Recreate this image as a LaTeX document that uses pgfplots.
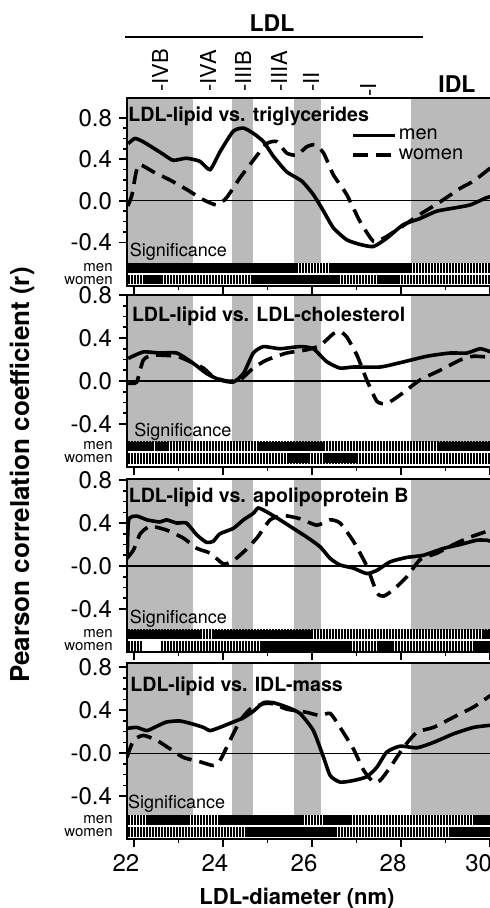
\documentclass[border=0pt]{standalone}
\usepackage{pgfplots}
\pgfplotsset{compat=1.18}
\usepackage{fontspec}
\setmainfont{TeX Gyre Heros}
\usetikzlibrary{patterns.meta}

\newcommand{\rect}[5]{\addplot[#1,draw=none,forget plot] coordinates {(#2,#4) (#3,#4) (#3,#5) (#2,#5)} -- cycle;}

\pgfplotsset{
  panel/.style={scale only axis, width=182pt, xmin=21.843, xmax=30.022,
    anchor=south west, tick pos=left, tick align=outside,
    xtick={22,24,26,28,30}, minor x tick num=1, xticklabels={},
    ytick={-0.4,0,0.4,0.8}, minor y tick num=3,
    yticklabels={-0.4,0.0,0.4,0.8},
    axis line style={line width=1pt}, major tick length=4pt, minor tick length=2.2pt,
    tick style={line width=0.8pt, black},
    tick label style={font=\fontsize{12}{12}\selectfont},
    xticklabel style={xshift=-4pt},
    clip mode=individual, axis on top},
  men/.style={black, line width=1.8pt, smooth, tension=0.35},
  women/.style={black, line width=1.8pt, dash pattern=on 7.5pt off 4pt, smooth, tension=0.35},
  shade/.style={fill=black!27},
  hatch/.style={pattern={Lines[angle=90,distance=1.5pt,line width=0.6pt]}, pattern color=black},
  solid bar/.style={fill=black},
}
\newcommand{\sidelabels}[2]{%
  \node[anchor=east, inner sep=0, font=\fontsize{7.5}{7.5}\selectfont] at ([xshift=-7pt,yshift=0.4pt]axis cs:21.843,#1) {men};
  \node[anchor=east, inner sep=0, font=\fontsize{7.5}{7.5}\selectfont] at ([xshift=-7pt,yshift=-0.4pt]axis cs:21.843,#2) {women};}
\newcommand{\signif}[2]{\node[anchor=base west, inner sep=0, font=\fontsize{9}{9}\selectfont] at (axis cs:#1,#2) {Significance};}
\newcommand{\zeroline}{\addplot[black, line width=0.6pt, forget plot] coordinates {(21.843,0) (30.022,0)};}

\begin{document}
\begin{tikzpicture}
\useasboundingbox (0pt,0pt) rectangle (245pt,454pt);
% header
\node[font=\bfseries\fontsize{11.5}{12}\selectfont, anchor=base, inner sep=0] at (136pt,438pt) {LDL};
\draw[line width=1pt] (62.5pt,435.5pt) -- (211.5pt,435.5pt);
\node[font=\bfseries\fontsize{11.5}{12}\selectfont, anchor=base west, inner sep=0] at (219pt,407.75pt) {IDL};
\foreach \xx/\yy/\t in {80/408/-IVB, 104/408/-IVA, 121.5/408/-IIIB, 139.5/408/-IIIA, 155.5/408/-II, 184/405.5/-I}
  \node[rotate=90, anchor=west, inner sep=0, font=\fontsize{11}{11}\selectfont] at (\xx pt,\yy pt) {\t};
% axis labels
\node[rotate=90, font=\bfseries\fontsize{13}{13}\selectfont, inner sep=0] at (11pt,216.5pt) {Pearson correlation coefficient (r)};
\node[anchor=base, font=\bfseries\fontsize{11}{11}\selectfont, inner sep=0] at (148.5pt,1.8pt) {LDL-diameter (nm)};

% ---------------- Panel 1
\begin{axis}[panel, at={(63.5pt,311pt)}, height=94pt, ymin=-0.82, ymax=0.99,
  legend style={at={(0.615,0.85)}, anchor=north west, draw=none, fill=none,
    font=\fontsize{10}{10}\selectfont, inner sep=0pt, row sep=1pt,
    nodes={inner sep=1pt}},
  legend cell align=left,
  legend image code/.code={\draw[#1] (0pt,0pt) -- (21pt,0pt);}]
\rect{shade}{21.843}{23.32}{-0.60}{0.99}
\rect{shade}{24.2}{24.68}{-0.60}{0.99}
\rect{shade}{25.6}{26.2}{-0.60}{0.99}
\rect{shade}{28.22}{30.022}{-0.60}{0.99}
\zeroline
\addplot[men] coordinates {(21.87,0.55) (22.02,0.60) (22.20,0.57) (22.43,0.51) (22.65,0.45) (22.88,0.39) (23.18,0.41) (23.48,0.38) (23.71,0.30) (23.93,0.47) (24.23,0.67) (24.46,0.70) (24.68,0.65) (24.91,0.57) (25.13,0.43) (25.43,0.28) (25.77,0.19) (26.03,0.06) (26.26,-0.10) (26.48,-0.26) (26.78,-0.375) (27.08,-0.42) (27.38,-0.44) (27.68,-0.36) (28.05,-0.23) (28.43,-0.17) (28.80,-0.10) (29.18,-0.07) (29.55,-0.04) (29.92,0.03) (30.02,0.04)};
\addlegendentry{men}
\addplot[women] coordinates {(21.86,-0.05) (21.95,0.05) (22.05,0.28) (22.13,0.35) (22.43,0.28) (22.81,0.20) (23.18,0.11) (23.56,0.01) (23.86,-0.04) (24.08,0.03) (24.38,0.22) (24.68,0.39) (24.98,0.55) (25.21,0.57) (25.43,0.46) (25.66,0.44) (25.88,0.52) (26.07,0.54) (26.26,0.46) (26.48,0.25) (26.78,0.06) (27.08,-0.20) (27.38,-0.39) (27.61,-0.36) (27.98,-0.26) (28.43,-0.13) (28.88,-0.01) (29.33,0.12) (29.63,0.19) (29.96,0.30) (30.02,0.32)};
\addlegendentry{women}
% significance bars
\rect{hatch}{21.843}{30.022}{-0.695}{-0.60}
\rect{solid bar}{21.843}{25.65}{-0.695}{-0.60}
\rect{solid bar}{26.40}{28.24}{-0.695}{-0.60}
\rect{hatch}{21.843}{30.022}{-0.80}{-0.715}
\rect{solid bar}{22.25}{22.66}{-0.80}{-0.715}
\rect{solid bar}{24.64}{26.63}{-0.80}{-0.715}
\rect{solid bar}{27.45}{27.98}{-0.80}{-0.715}
\node[anchor=north west, inner sep=0, font=\bfseries\fontsize{9.8}{10}\selectfont] at ([xshift=0.5pt,yshift=-4.5pt]rel axis cs:0,1) {LDL-lipid vs. triglycerides};
\signif{21.9}{-0.535}
\sidelabels{-0.6475}{-0.7575}
\end{axis}

% ---------------- Panel 2
\begin{axis}[panel, at={(63.5pt,220.5pt)}, height=86pt, ymin=-0.80, ymax=0.80]
\rect{shade}{21.843}{23.32}{-0.565}{0.80}
\rect{shade}{24.2}{24.68}{-0.565}{0.80}
\rect{shade}{25.6}{26.2}{-0.565}{0.80}
\rect{shade}{28.22}{30.022}{-0.565}{0.80}
\zeroline
\addplot[men] coordinates {(21.87,0.21) (22.21,0.27) (22.58,0.26) (22.96,0.26) (23.33,0.165) (23.63,0.07) (23.93,0.01) (24.23,-0.01) (24.46,0.07) (24.68,0.26) (24.91,0.32) (25.28,0.30) (25.73,0.32) (26.03,0.30) (26.33,0.18) (26.63,0.12) (26.93,0.13) (27.53,0.13) (27.98,0.17) (28.58,0.23) (29.10,0.26) (29.48,0.26) (29.78,0.30) (30.02,0.27)};
\addplot[women] coordinates {(21.87,-0.02) (22.06,-0.01) (22.21,0.195) (22.43,0.24) (22.96,0.23) (23.26,0.18) (23.56,0.12) (23.78,0.04) (24.08,0.0) (24.38,0.01) (24.68,0.12) (24.98,0.195) (25.43,0.26) (25.88,0.29) (26.18,0.33) (26.48,0.44) (26.63,0.46) (26.78,0.41) (27.01,0.24) (27.23,0.01) (27.46,-0.19) (27.68,-0.21) (27.98,-0.13) (28.43,0.01) (28.88,0.10) (29.33,0.195) (29.63,0.23) (30.02,0.22)};
\rect{hatch}{21.843}{30.022}{-0.65}{-0.565}
\rect{solid bar}{21.843}{22.44}{-0.65}{-0.565}
\rect{solid bar}{22.51}{22.77}{-0.65}{-0.565}
\rect{solid bar}{24.76}{26.29}{-0.65}{-0.565}
\rect{solid bar}{28.80}{30.022}{-0.65}{-0.565}
\rect{hatch}{21.843}{30.022}{-0.765}{-0.67}
\rect{solid bar}{25.47}{25.96}{-0.765}{-0.67}
\rect{solid bar}{26.26}{27.0}{-0.765}{-0.67}
\node[anchor=north west, inner sep=0, font=\bfseries\fontsize{9.8}{10}\selectfont] at ([xshift=2.3pt,yshift=-5.8pt]rel axis cs:0,1) {LDL-lipid vs. LDL-cholesterol};
\signif{22.0}{-0.518}
\sidelabels{-0.6075}{-0.7175}
\end{axis}

% ---------------- Panel 3
\begin{axis}[panel, at={(63.5pt,128pt)}, height=86.5pt, ymin=-0.80, ymax=0.81,
  yticklabels={-0.4,-0.0,0.4,0.8}]
\rect{shade}{21.843}{23.32}{-0.595}{0.81}
\rect{shade}{24.2}{24.68}{-0.595}{0.81}
\rect{shade}{25.6}{26.2}{-0.595}{0.81}
\rect{shade}{28.22}{30.022}{-0.595}{0.81}
\zeroline
\addplot[men] coordinates {(21.85,0.10) (21.88,0.43) (22.06,0.465) (22.29,0.43) (22.58,0.41) (22.73,0.43) (22.96,0.40) (23.18,0.40) (23.41,0.29) (23.63,0.22) (23.78,0.23) (23.93,0.30) (24.23,0.35) (24.46,0.43) (24.68,0.49) (24.79,0.54) (24.98,0.505) (25.28,0.43) (25.58,0.35) (25.88,0.27) (26.18,0.18) (26.41,0.07) (26.63,0.01) (26.93,-0.02) (27.23,-0.07) (27.46,-0.04) (27.76,0.04) (28.13,0.08) (28.50,0.10) (28.96,0.165) (29.33,0.20) (29.70,0.24) (29.93,0.24) (30.02,0.23)};
\addplot[women] coordinates {(21.84,0.07) (21.99,0.15) (22.14,0.30) (22.36,0.37) (22.73,0.335) (23.11,0.26) (23.41,0.165) (23.71,0.12) (24.01,0.02) (24.23,0.05) (24.46,0.13) (24.76,0.26) (25.06,0.43) (25.36,0.47) (25.73,0.44) (26.11,0.38) (26.41,0.43) (26.63,0.40) (26.93,0.23) (27.23,0.0) (27.46,-0.25) (27.61,-0.28) (27.83,-0.22) (28.13,-0.10) (28.43,0.06) (28.81,0.12) (29.18,0.20) (29.56,0.27) (30.02,0.335)};
\rect{hatch}{21.843}{30.022}{-0.68}{-0.595}
\rect{solid bar}{21.843}{23.52}{-0.68}{-0.595}
\rect{solid bar}{23.75}{26.03}{-0.68}{-0.595}
\rect{solid bar}{29.81}{30.022}{-0.68}{-0.595}
\rect{hatch}{21.843}{30.022}{-0.79}{-0.70}
\rect{fill=white}{22.21}{22.58}{-0.79}{-0.70}
\rect{solid bar}{24.83}{26.85}{-0.79}{-0.70}
\rect{solid bar}{27.45}{27.83}{-0.79}{-0.70}
\rect{solid bar}{29.63}{30.022}{-0.79}{-0.70}
\node[anchor=north west, inner sep=0, font=\bfseries\fontsize{9.8}{10}\selectfont] at ([xshift=0.7pt,yshift=-4.5pt]rel axis cs:0,1) {LDL-lipid vs. apolipoprotein B};
\signif{21.9}{-0.533}
\sidelabels{-0.6375}{-0.745}
\end{axis}

% ---------------- Panel 4
\begin{axis}[panel, at={(63.5pt,34.5pt)}, height=88pt, ymin=-0.80, ymax=0.84,
  yticklabels={-0.4,-0.0,0.4,0.8}, xticklabels={22,24,26,28,\makebox[10pt][r]{30}}]
\rect{shade}{21.843}{23.32}{-0.58}{0.84}
\rect{shade}{24.2}{24.68}{-0.58}{0.84}
\rect{shade}{25.6}{26.2}{-0.58}{0.84}
\rect{shade}{28.22}{30.022}{-0.58}{0.84}
\zeroline
\addplot[men] coordinates {(21.84,0.23) (22.06,0.24) (22.29,0.21) (22.51,0.25) (22.73,0.29) (23.03,0.30) (23.33,0.27) (23.56,0.24) (23.71,0.21) (23.93,0.24) (24.23,0.29) (24.46,0.33) (24.68,0.39) (24.91,0.47) (25.13,0.47) (25.43,0.43) (25.73,0.37) (26.03,0.21) (26.26,-0.04) (26.41,-0.21) (26.63,-0.27) (26.93,-0.255) (27.23,-0.22) (27.46,-0.13) (27.68,0.01) (27.98,0.065) (28.36,0.05) (28.73,0.10) (29.18,0.18) (29.63,0.24) (30.02,0.26)};
\addplot[women] coordinates {(21.84,-0.04) (21.99,0.12) (22.21,0.165) (22.51,0.12) (22.81,0.04) (23.11,-0.04) (23.48,-0.08) (23.78,-0.115) (23.93,-0.07) (24.16,0.12) (24.38,0.30) (24.61,0.41) (24.91,0.46) (25.13,0.46) (25.43,0.41) (25.88,0.38) (26.18,0.35) (26.41,0.37) (26.63,0.24) (26.93,0.04) (27.16,-0.16) (27.38,-0.27) (27.53,-0.255) (27.76,-0.13) (28.06,0.055) (28.36,0.195) (28.73,0.24) (29.18,0.335) (29.63,0.43) (30.02,0.54)};
\rect{hatch}{21.843}{30.022}{-0.665}{-0.58}
\rect{solid bar}{22.28}{23.22}{-0.665}{-0.58}
\rect{solid bar}{23.90}{25.82}{-0.665}{-0.58}
\rect{solid bar}{26.25}{26.89}{-0.665}{-0.58}
\rect{solid bar}{29.64}{30.022}{-0.665}{-0.58}
\rect{hatch}{21.843}{30.022}{-0.78}{-0.69}
\rect{solid bar}{24.53}{26.55}{-0.78}{-0.69}
\rect{solid bar}{29.10}{30.022}{-0.78}{-0.69}
\node[anchor=north west, inner sep=0, font=\bfseries\fontsize{9.8}{10}\selectfont] at ([xshift=1.5pt,yshift=-6.8pt]rel axis cs:0,1) {LDL-lipid vs. IDL-mass};
\signif{21.86}{-0.517}
\sidelabels{-0.6225}{-0.735}
\end{axis}
\end{tikzpicture}
\end{document}
